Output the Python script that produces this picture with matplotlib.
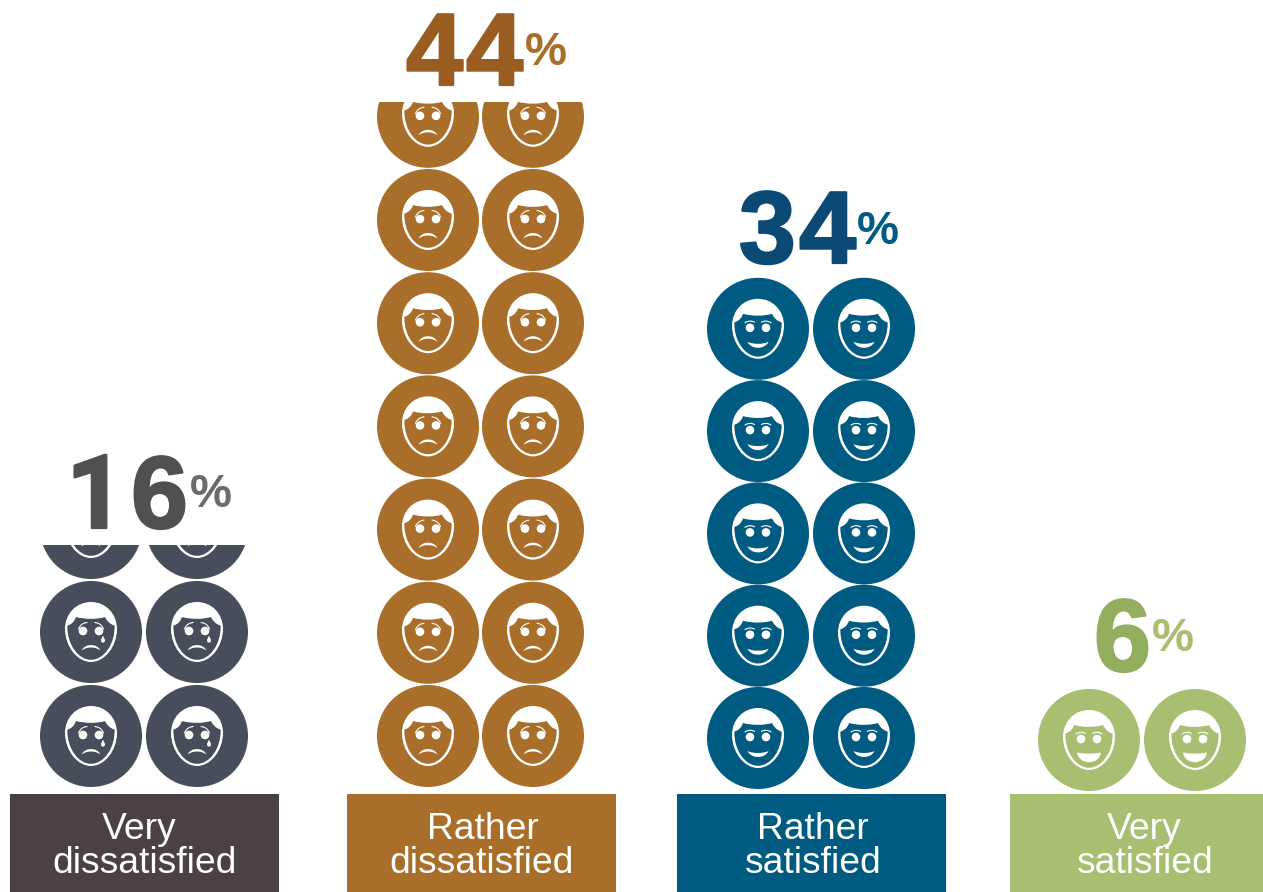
import matplotlib
matplotlib.use("Agg")
import matplotlib.pyplot as plt
import matplotlib.patheffects as pe
from matplotlib.path import Path
from matplotlib.patches import PathPatch, Circle, Rectangle
from matplotlib.transforms import Affine2D

# ---- data ----
categories = [["Very", "dissatisfied"], ["Rather", "dissatisfied"], ["Rather", "satisfied"], ["Very", "satisfied"]]
values = [16, 44, 34, 6]
icon_rows = [2.34, 6.63, 5, 1]          # rows of icons visible (fractional = cut off at the top)
moods = ["very_sad", "sad", "happy", "very_happy"]

# ---- style ----
circle_colors = ["#474D5A", "#A96F2A", "#005B82", "#A8BF72"]
box_colors = ["#4B4046", "#A96F2A", "#005B82", "#A8BF72"]
num_colors = ["#505050", "#9A5C20", "#0B4A75", "#93AE5E"]
pct_colors = ["#6B6B6B", "#A96F2A", "#005B82", "#A8BF72"]

# ---- layout (pixels) ----
W, H = 1263, 892
col_x = [(91, 197), (428, 533), (758, 864), (1089, 1195)]
row0_y = [736, 736, 738, 740]
pitch = [104, 103.2, 102.3, 104]
R = 51
box_x = [(10, 279), (347, 616), (677, 946), (1010, 1263)]
box_top = 794
label_x = [(139.5, 145), (483, 482), (813, 813), (1144.5, 1145)]
num_right = [188, 523, 856, 1151]
num_base = [528, 85, 263, 671]
pct_left = [190, 525, 857, 1152]
pct_base = [507, 65, 244, 651]
clip_top = [545, 102, None, None]
digit_adv = 60
one_shift = -3

plt.rcParams["font.family"] = ["Liberation Sans", "DejaVu Sans"]
fig = plt.figure(figsize=(W / 100, H / 100), dpi=100, facecolor="white")
ax = fig.add_axes([0, 0, 1, 1])
ax.set_xlim(0, W)
ax.set_ylim(H, 0)
ax.axis("off")

M, C, Z = Path.MOVETO, Path.CURVE4, Path.CLOSEPOLY


def bez(start, *segs, close=True):
    v, c = [start], [M]
    for s in segs:
        v += list(s)
        c += [C, C, C]
    if close:
        v.append(start)
        c.append(Z)
    return Path(v, c)


HEAD = bez((0, -30),
           ((15, -30), (26, -18), (26, -3)),
           ((26, 14), (14, 30), (0, 30)),
           ((-14, 30), (-26, 14), (-26, -3)),
           ((-26, -18), (-15, -30), (0, -30)))
FACE = bez((-23.6, -6.5),
           ((-19, -7.5), (-16, -11.5), (-15, -15)),
           ((-6, -12.5), (6, -12.5), (14, -15)),
           ((15.5, -11.5), (19, -7.5), (23.6, -6.5)),
           ((24.2, 12), (13, 27.8), (0, 27.8)),
           ((-13, 27.8), (-24.2, 12), (-23.6, -6.5)))
SMILE = bez((-10.5, 13),
            ((-5, 15.7), (5, 15.7), (10.5, 13)),
            ((7, 21), (-7, 21), (-10.5, 13)))
FROWN = bez((-9.5, 18.5),
            ((-6, 11.2), (6, 11.2), (9.5, 18.5)),
            ((4, 14.5), (-4, 14.5), (-9.5, 18.5)))
GRIN = bez((-12, 12.5),
           ((-5, 14), (5, 14), (12, 12.5)),
           ((10, 25.5), (-10, 25.5), (-12, 12.5)))
TEAR = bez((12, 3.5),
           ((12.8, 6), (14, 7), (14, 8.5)),
           ((14, 11.3), (10, 11.3), (10, 8.5)),
           ((10, 7), (11.2, 6), (12, 3.5)))


def brow(pts):
    return bez(pts[0], (pts[1], pts[2], pts[3]), close=False)


BROWS = {
    "happy": [[(-13, -6), (-10, -8.2), (-6, -8.2), (-3.5, -6.5)], [(3.5, -6.5), (6, -8.2), (10, -8.2), (13, -6)]],
    "sad": [[(-12.5, -3), (-11, -7), (-8, -9), (-4, -9.5)], [(4, -9.5), (8, -9), (11, -7), (12.5, -3)]],
}
BROWS["very_happy"] = BROWS["happy"]
BROWS["very_sad"] = BROWS["sad"]
MOUTHS = {"happy": SMILE, "sad": FROWN, "very_sad": FROWN, "very_happy": GRIN}


def draw_icon(cx, cy, color, mood, clip):
    t = Affine2D().translate(cx, cy) + ax.transData
    arts = [ax.add_patch(Circle((cx, cy), R, fc=color, ec="none")),
            ax.add_patch(PathPatch(HEAD, fc="white", ec="none", transform=t)),
            ax.add_patch(PathPatch(FACE, fc=color, ec="none", transform=t))]
    for ex in (-8, 8):
        arts.append(ax.add_patch(Circle((cx + ex, cy - 1), 4.3, fc="white", ec="none")))
    for b in BROWS[mood]:
        arts.append(ax.add_patch(PathPatch(brow(b), fc="none", ec="white", lw=0.8, capstyle="round", transform=t)))
    arts.append(ax.add_patch(PathPatch(MOUTHS[mood], fc="white", ec="none", transform=t)))
    if mood == "very_sad":
        arts.append(ax.add_patch(PathPatch(TEAR, fc="white", ec="none", transform=t)))
    if clip is not None:
        for a in arts:
            a.set_clip_path(clip)


for i, (val, rows) in enumerate(zip(values, icon_rows)):
    clip = None
    if clip_top[i] is not None:
        clip = Rectangle((0, clip_top[i]), W, H - clip_top[i], transform=ax.transData)
    n = int(rows) + (1 if rows % 1 else 0)
    for r in range(n):
        for cx in col_x[i]:
            draw_icon(cx, row0_y[i] - r * pitch[i], circle_colors[i], moods[i], clip)

    x0, x1 = box_x[i]
    ax.add_patch(Rectangle((x0, box_top), x1 - x0, H - box_top, fc=box_colors[i], ec="none"))
    for line, lx, y in zip(categories[i], label_x[i], (839, 873)):
        ax.text(lx, y, line, color="white", fontsize=26.8, ha="center", va="baseline")

    # digit by digit: Liberation's "1" has a foot serif that the reference lacks
    for k, ch in enumerate(reversed(str(val))):
        x = num_right[i] - k * digit_adv + (one_shift if ch == "1" else 0)
        t = ax.text(x, num_base[i], ch, color=num_colors[i], fontsize=74, fontweight="bold",
                    family="Roboto" if ch == "1" else "Liberation Sans", ha="right", va="baseline")
        t.set_path_effects([pe.withStroke(linewidth=1.6, foreground=num_colors[i])])
    ax.text(pct_left[i], pct_base[i], "%", color=pct_colors[i], fontsize=34, fontweight="bold",
            ha="left", va="baseline")

fig.savefig("out.png", dpi=100, facecolor="white")
